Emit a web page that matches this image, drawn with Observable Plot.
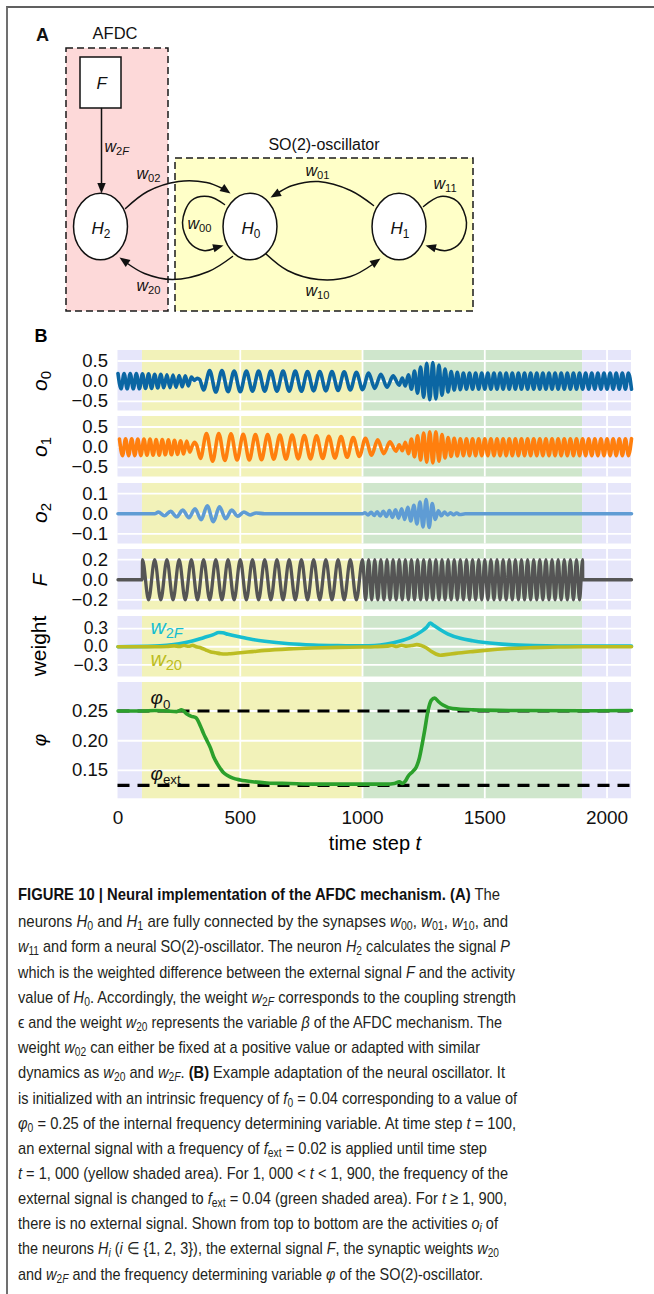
<!DOCTYPE html>
<html><head><meta charset="utf-8">
<script src="https://cdn.jsdelivr.net/npm/d3@7"></script>
<script src="https://cdn.jsdelivr.net/npm/@observablehq/plot@0.6"></script>
<style>
html,body{margin:0;padding:0;background:#fff;}
body{position:relative;width:654px;height:1294px;overflow:hidden;font-family:"Liberation Sans",Arial,sans-serif;color:#000;}
#frame{position:absolute;left:6px;top:6px;width:700px;height:1400px;border-left:2px solid #707070;border-top:2px solid #606060;}
.plot{position:absolute;left:0;}
.ylab{position:absolute;transform:translate(-50%,-50%) rotate(-90deg);font-size:21px;white-space:nowrap;line-height:1;}
.ylab sub{font-size:15px;vertical-align:-4px;line-height:0;font-style:normal}
.cap{position:absolute;left:18px;white-space:nowrap;font-family:"Liberation Sans Narrow","Liberation Sans",Arial,sans-serif;font-size:17px;line-height:20px;color:#231f20;transform-origin:0 50%;}
.cap sub{font-size:12px;vertical-align:-3px;line-height:0}
.cap b{color:#111}
</style></head><body>
<div id="frame"></div>
<script>
// ---------------- DATA ----------------
// time spans of the shaded phases (no signal, f_ext=0.02, f_ext=0.04, no signal)
const spanStarts = [0, 100, 1000, 1900];
const spanEnds = [100, 1000, 1900, 2100];
const xTicks = [0, 500, 1000, 1500, 2000];

// oscillating series given as successive extrema: {t0, step, sign, amps} (sign alternates per half-cycle)
const o0Series = [
  {t0: 0, step: 12.5, sign: 1, amps: [0.19,0.19,0.19,0.19,0.19,0.19,0.19,0.19,0.18,0.18,0.18,0.18,0.17,0.17,0.17,0.16,0.16,0.16,0.15,0.15,0.14,0.14,0.13,0.12,0.1]},
  [312, 0.02], [324, 0.07], [334, 0.04],
  {t0: 350, step: 25, sign: -1, amps: [0.22,0.26,0.27,0.26,0.26,0.25,0.26,0.25,0.25,0.25,0.25,0.25,0.25,0.25,0.25,0.25,0.25,0.24,0.24,0.24,0.24,0.24,0.23,0.23,0.22,0.22,0.21]},
  {t0: 1025, step: 25, sign: 1, amps: [0.2,0.18,0.17,0.15,0.13,0.1]},
  {t0: 1162.5, step: 12.5, sign: 1, amps: [0.08,0.12,0.16,0.2,0.25,0.3,0.35,0.4,0.44,0.46,0.46,0.44,0.4,0.35,0.3,0.27,0.24,0.22,0.22,0.21,
    0.2,0.2,0.2,0.2,0.2,0.2,0.2,0.2,0.2,0.2,0.2,0.2,0.2,0.2,0.2,0.2,0.2,0.2,0.2,0.2,
    0.2,0.2,0.2,0.2,0.2,0.2,0.2,0.2,0.2,0.2,0.2,0.2,0.2,0.2,0.2,0.2,0.2,0.2,0.2,0.2,
    0.2,0.2,0.2,0.2,0.2,0.2,0.2,0.2,0.2,0.2,0.2,0.2,0.2,0.2,0.2,0.2]}
];
const o1Series = [
  {t0: 6, step: 12.5, sign: 1, amps: [0.2,0.21,0.21,0.21,0.21,0.21,0.2,0.21,0.2,0.2,0.2,0.2,0.19,0.2,0.19,0.19,0.18,0.19,0.17,0.18,0.16,0.17,0.15,0.12]},
  [303, 0.02], [313, 0.12], [322, 0.05],
  {t0: 337, step: 25, sign: -1, amps: [0.28,0.34,0.35,0.34,0.33,0.33,0.32,0.32,0.32,0.31,0.31,0.31,0.3,0.3,0.3,0.3,0.29,0.29,0.29,0.28,0.28,0.27,0.27,0.26,0.25,0.24,0.23]},
  {t0: 1012, step: 25, sign: 1, amps: [0.22,0.2,0.18,0.16,0.13,0.1]},
  {t0: 1150, step: 12.5, sign: 1, amps: [0.06,0.09,0.12,0.16,0.2,0.24,0.28,0.32,0.35,0.37,0.38,0.39,0.38,0.35,0.31,0.27,0.24,0.23,0.22,0.22,
    0.21,0.21,0.21,0.21,0.21,0.21,0.21,0.21,0.21,0.21,0.21,0.21,0.21,0.21,0.21,0.21,0.21,0.21,0.21,0.21,
    0.21,0.21,0.21,0.21,0.21,0.21,0.21,0.21,0.21,0.21,0.21,0.21,0.21,0.21,0.21,0.21,0.21,0.21,0.21,0.21,
    0.21,0.21,0.21,0.21,0.21,0.21,0.21,0.21,0.21,0.21,0.21,0.21,0.21,0.21,0.21,0.21,0.21]}
];
const o2Series = [
  [0, 0], [150, 0],
  {t0: 165, step: 25, sign: 1, amps: [0.008,0.01,0.012,0.015,0.018,0.02,0.025,0.03,0.04,0.04,0.035,0.025,0.018,0.012,0.008,0.006,0.004]},
  [600, 0], [1000, 0],
  {t0: 1010, step: 12.5, sign: 1, amps: [0.005,0.006,0.007,0.008,0.01,0.011,0.012,0.014,0.016,0.018,0.02,0.022,0.025,0.028,0.032,0.036,0.042,0.05,0.058,0.065,0.07,0.068,0.05,0.028,0.015,0.01,0.008,0.006,0.005,0.005,0.004,0.004]},
  [1420, 0], [2100, 0]
];
const fSeries = [
  [0, 0], [99.5, 0],
  {t0: 100, step: 25, sign: 1, amps: [0.2,0.2,0.2,0.2,0.2,0.2,0.2,0.2,0.2,0.2,0.2,0.2,0.2,0.2,0.2,0.2,0.2,0.2,0.2,0.2,
    0.2,0.2,0.2,0.2,0.2,0.2,0.2,0.2,0.2,0.2,0.2,0.2,0.2,0.2,0.2,0.2,0.2]},
  {t0: 1012.5, step: 12.5, sign: -1, amps: [0.2,0.2,0.2,0.2,0.2,0.2,0.2,0.2,0.2,0.2,0.2,0.2,0.2,0.2,0.2,0.2,0.2,0.2,0.2,0.2,
    0.2,0.2,0.2,0.2,0.2,0.2,0.2,0.2,0.2,0.2,0.2,0.2,0.2,0.2,0.2,0.2,0.2,0.2,0.2,0.2,
    0.2,0.2,0.2,0.2,0.2,0.2,0.2,0.2,0.2,0.2,0.2,0.2,0.2,0.2,0.2,0.2,0.2,0.2,0.2,0.2,
    0.2,0.2,0.2,0.2,0.2,0.2,0.2,0.2,0.2,0.2,0.2,0.2]},
  [1900.5, 0], [2100, 0]
];
const w2F = [[0,0.0],[150,0.01],[200,0.025],[250,0.05],[300,0.09],[350,0.15],[390,0.2],[412,0.235],[428,0.23],[450,0.205],[500,0.16],[550,0.12],[600,0.09],[700,0.05],[800,0.03],[900,0.02],[1000,0.015],[1050,0.02],[1100,0.045],[1150,0.09],[1200,0.16],[1240,0.25],[1262,0.32],[1277,0.39],[1292,0.35],[1315,0.29],[1350,0.21],[1400,0.14],[1450,0.1],[1500,0.07],[1600,0.035],[1700,0.02],[1900,0.01],[2100,0.01]];
const w20 = [[0,0],[150,0],[200,0.005],[230,0.015],[250,0.005],[270,0.02],[290,0.008],[305,0.022],[320,0.0],[340,-0.02],[360,-0.055],[380,-0.085],[400,-0.1],[420,-0.115],[440,-0.12],[460,-0.115],[500,-0.1],[550,-0.08],[600,-0.06],[700,-0.035],[800,-0.02],[900,-0.01],[1000,-0.005],[1050,0],[1100,0.01],[1120,0.02],[1140,0.005],[1160,0.025],[1180,0.01],[1200,0.02],[1222,0.035],[1240,0.02],[1262,-0.02],[1282,-0.08],[1300,-0.12],[1318,-0.14],[1340,-0.13],[1380,-0.11],[1450,-0.08],[1500,-0.06],[1600,-0.03],[1700,-0.015],[1800,-0.005],[1900,0],[2100,0]];
const phi = [[0,0.25],[100,0.25],[150,0.251],[200,0.25],[240,0.249],[260,0.252],[283,0.2445],[300,0.241],[318,0.239],[337,0.225],[350,0.212],[364,0.2],[378,0.188],[391,0.173],[405,0.162],[419,0.153],[432,0.146],[446,0.142],[470,0.137],[500,0.134],[550,0.131],[609,0.129],[700,0.128],[800,0.127],[1000,0.127],[1100,0.127],[1130,0.128],[1151,0.131],[1162,0.128],[1175,0.132],[1186,0.14],[1205,0.148],[1220,0.156],[1232,0.17],[1242,0.19],[1254,0.217],[1268,0.251],[1281,0.268],[1295,0.272],[1310,0.266],[1329,0.26],[1369,0.254],[1450,0.252],[1600,0.251],[1900,0.2505],[2100,0.251]];
const phiRefs = [0.25, 0.125];

// ---------------- HELPERS ----------------
const FONT = "Liberation Sans, Arial, sans-serif";
const mctx = document.createElement("canvas").getContext("2d");
function tw(s, size, italic) { mctx.font = (italic ? "italic " : "") + size + "px 'Liberation Sans'"; return mctx.measureText(s).width; }
function rich(x, y, parts, size, fill) {
  let off = 0; const marks = [];
  for (const [s, st] of parts) {
    const sub = st.includes("s"), it = st.includes("i");
    const fs = sub ? size * 0.7 : size;
    marks.push(Plot.text([{x, y, s}], {x: "x", y: "y", text: "s", dx: off, dy: sub ? size * 0.33 : 0,
      fontSize: fs, fontStyle: it ? "italic" : "normal", textAnchor: "start", fill, fontFamily: FONT}));
    off += tw(s, fs, it);
  }
  return marks;
}
function expand(list) {
  const out = [];
  for (const item of list) {
    if (Array.isArray(item)) out.push({t: item[0], v: item[1]});
    else item.amps.forEach((a, i) => out.push({t: item.t0 + i * item.step, v: (i % 2 === 0 ? item.sign : -item.sign) * a}));
  }
  return out;
}
const pts = arr => arr.map(([t, v]) => ({t, v}));
function place(svg, top) { svg.classList.add("plot"); svg.style.top = top + "px"; document.body.appendChild(svg); }

// ---------------- PANEL A (diagram) ----------------
const ellipseSym = {draw(ctx, size) {
  const ry = Math.sqrt(size / Math.PI), rx = ry * 0.81, k = 0.5523;
  ctx.moveTo(rx, 0);
  ctx.bezierCurveTo(rx, k * ry, k * rx, ry, 0, ry);
  ctx.bezierCurveTo(-k * rx, ry, -rx, k * ry, -rx, 0);
  ctx.bezierCurveTo(-rx, -k * ry, -k * rx, -ry, 0, -ry);
  ctx.bezierCurveTo(k * rx, -ry, rx, -k * ry, rx, 0);
  ctx.closePath();
}};
const headSym = {draw(ctx, size) {
  const L = Math.sqrt(size / Math.PI);
  ctx.moveTo(0, 0); ctx.lineTo(-L, -L * 0.4); ctx.lineTo(-L, L * 0.4); ctx.closePath();
}};
const nodes = [{x: 100, y: 226}, {x: 249.5, y: 226}, {x: 398.5, y: 226}];
const edges = [
  {id: "w2F", p: [[101,108],[101,184]]},
  {id: "w02", p: [[125,208],[147,191],[178,181],[206,182],[222,188]]},
  {id: "w01", p: [[373,205],[350,190],[318,181],[292,185],[278,192]]},
  {id: "w10", p: [[265,253],[287,270],[318,279],[350,276],[372,264]]},
  {id: "w20", p: [[232,256],[208,271],[172,279],[144,273],[127,263]]},
  {id: "w00", p: [[224,204],[208,196],[191,200],[182,222],[189,242],[203,250],[214,248]]},
  {id: "w11", p: [[423,206],[440,196],[457,201],[466,222],[460,242],[446,250],[434,248]]}
];
const heads = [{x:101,y:193,a:90},{x:230,y:193,a:35},{x:270,y:197,a:150},{x:380,y:258,a:-35},{x:119,y:257,a:215},{x:223,y:245,a:-15},{x:425,y:245,a:195}];
const edgePts = edges.flatMap(e => e.p.map(([x, y]) => ({x, y, id: e.id})));
const diagSize = 16;
const panelA = Plot.plot({
  width: 654, height: 320, margin: 0,
  style: {fontFamily: FONT, background: "transparent"},
  x: {domain: [0, 654], range: [0, 654], axis: null},
  y: {domain: [0, 320], range: [0, 320], axis: null},
  marks: [
    Plot.rect([{x1: 66, x2: 168, y1: 48, y2: 311}], {x1: "x1", x2: "x2", y1: "y1", y2: "y2", fill: "#fdd9d9", stroke: "#1a1a1a", strokeWidth: 1.5, strokeDasharray: "7,4"}),
    Plot.rect([{x1: 175, x2: 473, y1: 158, y2: 311}], {x1: "x1", x2: "x2", y1: "y1", y2: "y2", fill: "#ffffc8", stroke: "#1a1a1a", strokeWidth: 1.5, strokeDasharray: "7,4"}),
    Plot.rect([{x1: 80, x2: 121, y1: 57, y2: 108}], {x1: "x1", x2: "x2", y1: "y1", y2: "y2", fill: "white", stroke: "#111", strokeWidth: 1.5}),
    Plot.line(edgePts, {x: "x", y: "y", z: "id", stroke: "#111", strokeWidth: 1.5, curve: "catmull-rom"}),
    Plot.dot(heads, {x: "x", y: "y", rotate: "a", symbol: headSym, r: 10.5, fill: "#111", stroke: null}),
    Plot.dot(nodes, {x: "x", y: "y", symbol: ellipseSym, r: 33.3, fill: "white", stroke: "#111", strokeWidth: 1.5}),
    Plot.text([{x: 42, y: 35}], {x: "x", y: "y", text: () => "A", fontSize: 18, fontWeight: "bold", fontFamily: FONT, fill: "#111"}),
    Plot.text([{x: 114.5, y: 33}], {x: "x", y: "y", text: () => "AFDC", fontSize: 16.5, fontFamily: FONT, fill: "#111"}),
    Plot.text([{x: 323.5, y: 144}], {x: "x", y: "y", text: () => "SO(2)-oscillator", fontSize: 16, fontFamily: FONT, fill: "#111"}),
    ...rich(96, 83, [["F", "i"]], 17, "#111"),
    ...rich(104, 146, [["w", "i"], ["2", "s"], ["F", "si"]], diagSize, "#111"),
    ...rich(136, 173, [["w", "i"], ["02", "s"]], diagSize, "#111"),
    ...rich(305, 170, [["w", "i"], ["01", "s"]], diagSize, "#111"),
    ...rich(433, 183, [["w", "i"], ["11", "s"]], diagSize, "#111"),
    ...rich(187, 223, [["w", "i"], ["00", "s"]], diagSize, "#111"),
    ...rich(136, 285, [["w", "i"], ["20", "s"]], diagSize, "#111"),
    ...rich(305, 290, [["w", "i"], ["10", "s"]], diagSize, "#111"),
    ...rich(91, 228, [["H", "i"], ["2", "s"]], 17, "#111"),
    ...rich(241, 228, [["H", "i"], ["0", "s"]], 17, "#111"),
    ...rich(390, 228, [["H", "i"], ["1", "s"]], 17, "#111")
  ]
});
place(panelA, 0);

// ---------------- PANEL B ----------------
const spanFill = ["#e6e6fa", "#f2f2b9", "#cfe6cc", "#e6e6fa"];
const fmt1 = d3.format(".1f"), fmt2 = d3.format(".2f"), fmtX = d3.format("d");
function panel({top, h, domain, ticks, fmt, marks, last, tickFont = 18.5}) {
  const mb = last ? 60 : 0;
  const spans = spanStarts.map((s, i) => ({t1: s, t2: spanEnds[i], y1: domain[0], y2: domain[1], i}));
  const svg = Plot.plot({
    width: 654, height: h + mb, marginLeft: 117.5, marginRight: 23, marginTop: 0, marginBottom: mb,
    style: {fontFamily: FONT, background: "transparent", overflow: "visible"},
    x: {domain: [0, 2100], axis: null},
    y: {domain, axis: null},
    marks: [
      ...spans.map(s => Plot.rect([s], {x1: "t1", x2: "t2", y1: "y1", y2: "y2", fill: spanFill[s.i]})),
      Plot.gridY(ticks, {stroke: "white", strokeOpacity: 1, strokeWidth: 1.8}),
      Plot.gridX([500, 1000, 1500, 2000], {stroke: "white", strokeOpacity: 1, strokeWidth: 1.8}),
      Plot.axisY(ticks, {tickSize: 0, tickPadding: 10, fontSize: tickFont, tickFormat: fmt, label: null, fill: "#111"}),
      ...(last ? [Plot.axisX(xTicks, {tickSize: 0, tickPadding: 12, fontSize: 19, tickFormat: fmtX, label: null, fill: "#111"})] : []),
      ...marks
    ]
  });
  place(svg, top);
}
const LW = 3.6;
panel({top: 350, h: 60.5, domain: [-0.74, 0.76], ticks: [-0.5, 0, 0.5], fmt: fmt1,
  marks: [Plot.line(expand(o0Series), {x: "t", y: "v", stroke: "#0b66a3", strokeWidth: LW, curve: "monotone-x"})]});
panel({top: 416.4, h: 60.5, domain: [-0.74, 0.76], ticks: [-0.5, 0, 0.5], fmt: fmt1,
  marks: [Plot.line(expand(o1Series), {x: "t", y: "v", stroke: "#ff7f0e", strokeWidth: LW, curve: "monotone-x"})]});
panel({top: 482.8, h: 60.5, domain: [-0.15, 0.15], ticks: [-0.1, 0, 0.1], fmt: fmt1,
  marks: [Plot.line(expand(o2Series), {x: "t", y: "v", stroke: "#5f9cd4", strokeWidth: LW, curve: "monotone-x"})]});
panel({top: 549.2, h: 60.5, domain: [-0.3, 0.3], ticks: [-0.2, 0, 0.2], fmt: fmt1,
  marks: [Plot.line(expand(fSeries), {x: "t", y: "v", stroke: "#555555", strokeWidth: 3.3, curve: "monotone-x"})]});
panel({top: 615.6, h: 60.5, domain: [-0.5, 0.5], ticks: [-0.3, 0, 0.3], fmt: fmt1, tickFont: 17.5,
  marks: [
    Plot.line(pts(w2F), {x: "t", y: "v", stroke: "#17becf", strokeWidth: LW, curve: "monotone-x"}),
    Plot.line(pts(w20), {x: "t", y: "v", stroke: "#bcbd22", strokeWidth: LW, curve: "monotone-x"}),
    ...rich(133, 0.33, [["w", "i"], ["2", "s"], ["F", "si"]], 21, "#17becf"),
    ...rich(133, -0.2, [["w", "i"], ["20", "s"]], 21, "#bcbd22")
  ]});
panel({top: 682, h: 116.3, domain: [0.1023, 0.298], ticks: [0.15, 0.2, 0.25], fmt: fmt2, last: true,
  marks: [
    Plot.ruleY(phiRefs, {stroke: "#000", strokeWidth: 3.2, strokeDasharray: "12,8"}),
    Plot.line(pts(phi), {x: "t", y: "v", stroke: "#2ca02c", strokeWidth: LW, curve: "monotone-x"}),
    ...rich(133, 0.2715, [["φ", "i"], ["0", "s"]], 19, "#111"),
    ...rich(133, 0.1445, [["φ", "i"], ["ext", "s"]], 19, "#111")
  ]});

// labels outside plots
function htmlAt(html, cls, x, y, extra) {
  const d = document.createElement("div"); d.className = cls; d.innerHTML = html;
  d.style.left = x + "px"; d.style.top = y + "px"; if (extra) Object.assign(d.style, extra);
  document.body.appendChild(d); return d;
}
htmlAt("B", "ylab", 41, 336, {transform: "translate(-50%,-50%)", fontWeight: "bold", fontSize: "18px"});
htmlAt("<i>o</i><sub>0</sub>", "ylab", 39, 381);
htmlAt("<i>o</i><sub>1</sub>", "ylab", 39, 447);
htmlAt("<i>o</i><sub>2</sub>", "ylab", 39, 513);
htmlAt("<i>F</i>", "ylab", 39, 580);
htmlAt("weight", "ylab", 38, 646);
htmlAt("<i>φ</i>", "ylab", 39, 740, {fontSize: "19px"});
htmlAt("time step <i>t</i>", "ylab", 375, 843, {transform: "translate(-50%,-50%)", fontSize: "20px"});

// ---------------- CAPTION ----------------
const capLines = [
  "<b>FIGURE 10 | Neural implementation of the AFDC mechanism. (A)</b> The",
  "neurons <i>H</i><sub>0</sub> and <i>H</i><sub>1</sub> are fully connected by the synapses <i>w</i><sub>00</sub>, <i>w</i><sub>01</sub>, <i>w</i><sub>10</sub>, and",
  "<i>w</i><sub>11</sub> and form a neural SO(2)-oscillator. The neuron <i>H</i><sub>2</sub> calculates the signal <i>P</i>",
  "which is the weighted difference between the external signal <i>F</i> and the activity",
  "value of <i>H</i><sub>0</sub>. Accordingly, the weight <i>w</i><sub>2<i>F</i></sub> corresponds to the coupling strength",
  "ϵ and the weight <i>w</i><sub>20</sub> represents the variable <i>β</i> of the AFDC mechanism. The",
  "weight <i>w</i><sub>02</sub> can either be fixed at a positive value or adapted with similar",
  "dynamics as <i>w</i><sub>20</sub> and <i>w</i><sub>2<i>F</i></sub>. <b>(B)</b> Example adaptation of the neural oscillator. It",
  "is initialized with an intrinsic frequency of <i>f</i><sub>0</sub> = 0.04 corresponding to a value of",
  "<i>φ</i><sub>0</sub> = 0.25 of the internal frequency determining variable. At time step <i>t</i> = 100,",
  "an external signal with a frequency of <i>f</i><sub>ext</sub> = 0.02 is applied until time step",
  "<i>t</i> = 1, 000 (yellow shaded area). For 1, 000 &lt; <i>t</i> &lt; 1, 900, the frequency of the",
  "external signal is changed to <i>f</i><sub>ext</sub> = 0.04 (green shaded area). For <i>t</i> ≥ 1, 900,",
  "there is no external signal. Shown from top to bottom are the activities <i>o<sub>i</sub></i> of",
  "the neurons <i>H<sub>i</sub></i> (<i>i</i> ∈ {1, 2, 3}), the external signal <i>F</i>, the synaptic weights <i>w</i><sub>20</sub>",
  "and <i>w</i><sub>2<i>F</i></sub> and the frequency determining variable <i>φ</i> of the SO(2)-oscillator."
];
const capRight = [500, 508, 510, 515, 516, 502, 480, 505, 517, 516, 487, 508, 507, 498, 499, 483];
const capY = [895, 921.5, 947, 972.5, 997.5, 1022.5, 1048, 1073.3, 1098.5, 1123.5, 1148.5, 1173.5, 1199, 1224, 1249, 1275];
capLines.forEach((html, i) => {
  const d = document.createElement("div"); d.className = "cap"; d.innerHTML = html;
  d.style.top = (capY[i] - 10) + "px"; document.body.appendChild(d);
  const w = d.getBoundingClientRect().width;
  d.style.transform = `scaleX(${(capRight[i] - 18) / w})`;
});
</script></body></html>
